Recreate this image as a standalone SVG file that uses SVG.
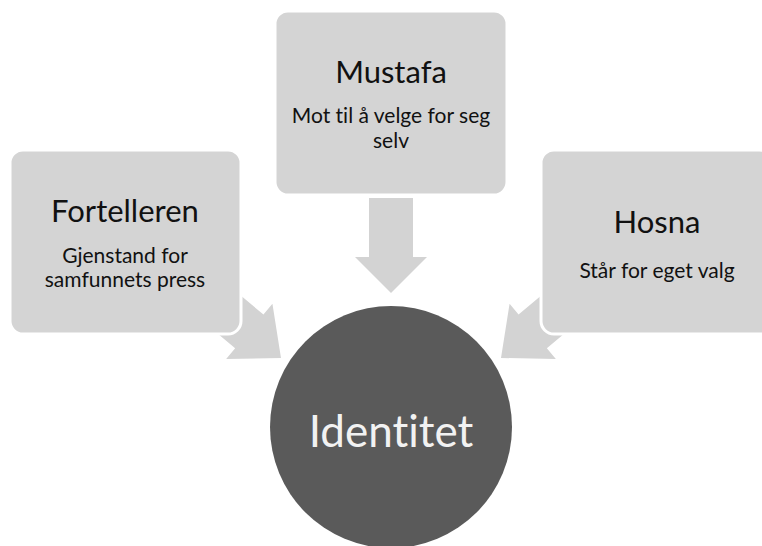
<svg xmlns="http://www.w3.org/2000/svg" width="762" height="546" viewBox="0 0 762 546">
<defs>
<style>
.box{fill:#d4d4d4;stroke:#ffffff;stroke-width:3}
.arrow{fill:#d3d3d3}
text{font-family:Lato,"Liberation Sans",sans-serif;text-anchor:middle;font-variant-ligatures:none;font-feature-settings:"liga" 0}
.title{font-size:31px;fill:#111}
.sub{font-size:21px;fill:#111}
.center{font-size:44px;fill:#f2f2f2}
</style>
<polygon id="arr" points="-95,-22 -36,-22 -36,-36 0,0 -36,36 -36,22 -95,22"/>
</defs>
<rect width="762" height="546" fill="#ffffff"/>
<g id="connectors" class="arrow">
<use href="#arr" transform="translate(391,293) rotate(90)"/>
<use href="#arr" transform="translate(281,358) rotate(40) scale(1.15,1)"/>
<use href="#arr" transform="translate(501,358) rotate(140) scale(1.15,1)"/>
</g>
<g id="node-fortelleren">
<rect class="box" x="10" y="150" width="231" height="184" rx="13"/>
<text class="title" x="125" y="222">Fortelleren</text>
<text class="sub" x="125" y="263">Gjenstand for</text>
<text class="sub" x="125" y="287">samfunnets press</text>
</g>
<g id="node-mustafa">
<rect class="box" x="275" y="11" width="232" height="184" rx="13"/>
<text class="title" x="391" y="83">Mustafa</text>
<text class="sub" x="391" y="123">Mot til å velge for seg</text>
<text class="sub" x="391" y="148">selv</text>
</g>
<g id="node-hosna">
<rect class="box" x="541" y="150" width="231" height="184" rx="13"/>
<text class="title" x="657" y="233">Hosna</text>
<text class="sub" x="657" y="278">Står for eget valg</text>
</g>
<g id="node-identitet">
<circle cx="391" cy="427" r="121" fill="#5a5a5a"/>
<text class="center" x="391" y="447">Identitet</text>
</g>
</svg>
